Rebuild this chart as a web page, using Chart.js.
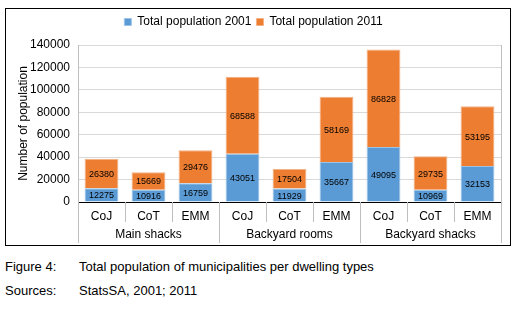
<!DOCTYPE html>
<html>
<head>
<meta charset="utf-8">
<script src="https://cdn.jsdelivr.net/npm/chart.js@4.4.1/dist/chart.umd.min.js"></script>
<style>
  body { margin: 0; background: #fff; font-family: "Liberation Sans", Arial, sans-serif; }
  #box { position: absolute; left: 5px; top: 8px; width: 504px; height: 236px; border: 1px solid #000; }
  .cap { position: absolute; left: 5px; font-size: 13px; color: #000; }
  .cap span { position: absolute; left: 74px; white-space: nowrap; }
</style>
</head>
<body>
<div id="box"><canvas id="chart-dwellings" width="504" height="236"></canvas></div>
<div class="cap" style="top:259px">Figure 4:<span>Total population of municipalities per dwelling types</span></div>
<div class="cap" style="top:283px">Sources:<span>StatsSA, 2001; 2011</span></div>
<script>
const municipalities = ['CoJ', 'CoT', 'EMM', 'CoJ', 'CoT', 'EMM', 'CoJ', 'CoT', 'EMM'];
const dwellingGroups = ['Main shacks', 'Backyard rooms', 'Backyard shacks'];
const pop2001 = [12275, 10916, 16759, 43051, 11929, 35667, 49095, 10969, 32153];
const pop2011 = [26380, 15669, 29476, 68588, 17504, 58169, 86828, 29735, 53195];
const yTicks = [0, 20000, 40000, 60000, 80000, 100000, 120000, 140000];

const font = 'Liberation Sans, Arial, sans-serif';

// extra gap under the legend
const legendGap = {
  id: 'legendGap',
  afterInit(chart) {
    const fit = chart.legend.fit;
    chart.legend.fit = function () {
      fit.call(this);
      this.height += 7;
    };
  }
};

// values inside each bar segment
const valueLabels = {
  id: 'valueLabels',
  afterDatasetsDraw(chart) {
    const ctx = chart.ctx;
    ctx.save();
    ctx.font = '9px ' + font;
    ctx.fillStyle = '#000';
    ctx.textAlign = 'center';
    ctx.textBaseline = 'middle';
    chart.data.datasets.forEach((ds, i) => {
      chart.getDatasetMeta(i).data.forEach((bar, j) => {
        ctx.fillText(ds.data[j], bar.x, (bar.y + bar.base) / 2 + 1);
      });
    });
    ctx.restore();
  }
};

// two-level category axis: separators + group names
const groupAxis = {
  id: 'groupAxis',
  afterDraw(chart) {
    const ctx = chart.ctx;
    const x = chart.scales.x;
    const area = chart.chartArea;
    const step = x.getPixelForValue(1) - x.getPixelForValue(0);
    ctx.save();
    ctx.strokeStyle = '#bfbfbf';
    ctx.lineWidth = 1;
    ctx.beginPath();
    ctx.moveTo(area.right + 0.5, area.top);
    ctx.lineTo(area.right + 0.5, area.bottom);
    ctx.stroke();
    for (let i = 0; i <= municipalities.length; i++) {
      const px = Math.round(x.getPixelForValue(i) - step / 2) + 0.5;
      const len = i % 3 === 0 ? 41 : 20;
      ctx.beginPath();
      ctx.moveTo(px, area.bottom);
      ctx.lineTo(px, area.bottom + len);
      ctx.stroke();
    }
    ctx.font = '12px ' + font;
    ctx.fillStyle = '#000';
    ctx.textAlign = 'center';
    ctx.textBaseline = 'middle';
    dwellingGroups.forEach((g, k) => {
      const cx = (x.getPixelForValue(k * 3) + x.getPixelForValue(k * 3 + 2)) / 2;
      ctx.fillText(g, cx, area.bottom + 33);
    });
    ctx.restore();
  }
};

new Chart(document.getElementById('chart-dwellings'), {
  type: 'bar',
  data: {
    labels: municipalities,
    datasets: [{
      label: 'Total population 2001',
      backgroundColor: '#5b9bd5',
      borderColor: '#9dc3e6',
      borderWidth: 1,
      data: pop2001
    },
    {
      label: 'Total population 2011',
      backgroundColor: '#ed7d31',
      borderColor: '#f4b183',
      borderWidth: 1,
      data: pop2011
    }]
  },
  options: {
    responsive: false,
    animation: false,
    layout: { padding: { top: 2, right: 9, bottom: 0, left: 0 } },
    plugins: {
      legend: {
        position: 'top',
        labels: {
          boxWidth: 7, boxHeight: 7, padding: 5, color: '#000',
          font: { family: font, size: 12 }
        }
      },
      tooltip: { enabled: false }
    },
    scales: {
      x: {
        stacked: true,
        categoryPercentage: 0.86,
        barPercentage: 0.5,
        grid: { display: true, drawOnChartArea: false, drawTicks: false, color: 'rgba(0,0,0,0)' },
        border: { color: '#000', width: 1 },
        ticks: { color: '#000', padding: 7, font: { family: font, size: 12 } },
        afterFit(scale) { scale.height = 43; }
      },
      y: {
        stacked: true,
        min: 0,
        max: 140000,
        afterBuildTicks(scale) { scale.ticks = yTicks.map(v => ({ value: v })); },
        grid: { color: '#d9d9d9', lineWidth: 1, drawTicks: false },
        border: { color: '#bfbfbf' },
        ticks: {
          color: '#000', padding: 8, font: { family: font, size: 12 },
          callback: v => String(v)
        },
        title: {
          display: true, text: 'Number of population', color: '#000',
          padding: { top: 10, bottom: 0 },
          font: { family: font, size: 12 }
        },
        afterFit(scale) { scale.width = 72; }
      }
    }
  },
  plugins: [legendGap, valueLabels, groupAxis]
});
</script>
</body>
</html>
